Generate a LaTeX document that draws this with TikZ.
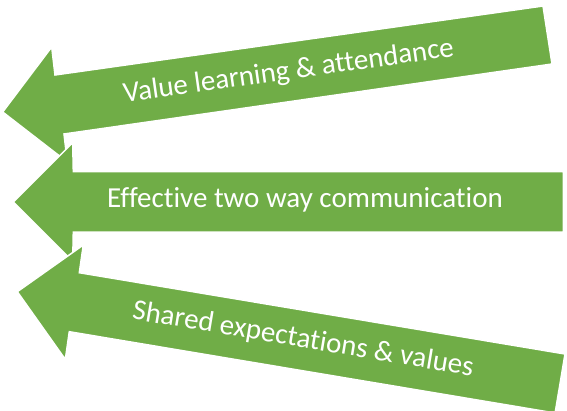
\documentclass[tikz,border=0pt]{standalone}
\usepackage{fontspec}
\setmainfont{Carlito}[Ligatures={NoCommon,NoRare,NoContextual}]
\definecolor{arrowgreen}{HTML}{70AD47}
\tikzset{
  bigarrow/.style={fill=arrowgreen, draw=white, line width=1.5pt, line join=miter},
  arrowtext/.style={text=white, font=\fontsize{29}{34}\selectfont, anchor=base, inner sep=0pt}
}
\begin{document}
\begin{tikzpicture}[x=1pt,y=-1pt]
\useasboundingbox (0,0) rectangle (567,410);
% top arrow
\fill[bigarrow] (2.7,112) -- (51.7,47) -- (55,75) -- (543,6) -- (552,64) -- (64,134) -- (67.3,162) -- cycle;
\node[arrowtext, rotate=8.05] (t1) at (289.7,79.5) {Value learning \& attendance};
% middle arrow
\fill[bigarrow] (13.3,202) -- (72.7,142.7) -- (73.3,171.7) -- (563.3,171.7) -- (563.3,232) -- (73.3,232) -- (72.7,261.3) -- cycle;
\node[arrowtext] (t2) at (305,207.3) {Effective two way communication};
% bottom arrow
\fill[bigarrow] (17.3,291.7) -- (83.3,245) -- (79.3,272.7) -- (565,354) -- (555.1,413) -- (69.3,331.7) -- (65.3,359.4) -- cycle;
\node[arrowtext, rotate=-9.5] (t3) at (301.8,347.4) {Shared expectations \& values};
\end{tikzpicture}
\end{document}
